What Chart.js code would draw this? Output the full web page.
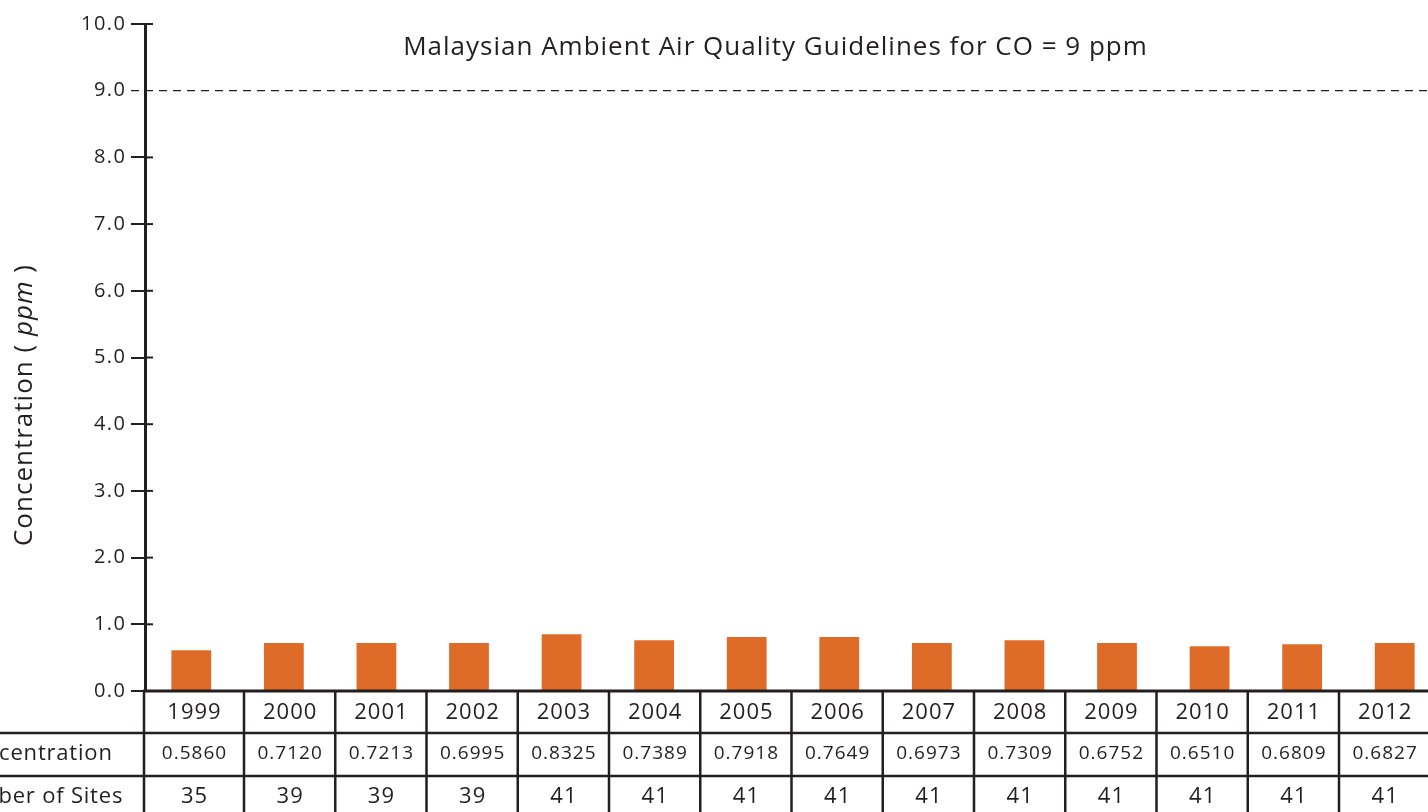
<!DOCTYPE html>
<html>
<head>
<meta charset="utf-8">
<script src="https://cdn.jsdelivr.net/npm/chart.js@4.4.1/dist/chart.umd.min.js"></script>
<style>
  html, body { margin: 0; padding: 0; overflow: hidden; background: #fff; }
  #wrap { width: 1445px; height: 812px; }
</style>
</head>
<body>
<div id="wrap"><canvas id="CO_CHART" width="1445" height="812"></canvas></div>
<script>
// datos
var years = ["1999", "2000", "2001", "2002", "2003", "2004", "2005", "2006", "2007", "2008", "2009", "2010", "2011", "2012"];
var barValues = [0.61, 0.72, 0.72, 0.72, 0.85, 0.76, 0.81, 0.81, 0.72, 0.76, 0.72, 0.67, 0.70, 0.72];
var concentration = ["0.5860", "0.7120", "0.7213", "0.6995", "0.8325", "0.7389", "0.7918", "0.7649", "0.6973", "0.7309", "0.6752", "0.6510", "0.6809", "0.6827"];
var sites = ["35", "39", "39", "39", "41", "41", "41", "41", "41", "41", "41", "41", "41", "41"];
var rowLabels = ["Concentration", "Number of Sites"];
var guideline = 9;
var guidelineText = "Malaysian Ambient Air Quality Guidelines for CO = 9 ppm";

var FONT = "'Open Sans', 'DejaVu Sans', sans-serif";
var INK = "#231f20";

// texto con espaciado extra (la fuente original es mas ancha)
function texto(ctx, str, x, y, size, spacing, align, style) {
  ctx.font = (style ? style + " " : "") + size + "px " + FONT;
  ctx.letterSpacing = spacing + "px";
  var w = ctx.measureText(str).width - spacing;
  var x0 = x;
  if (align === "center") x0 = x - w / 2;
  if (align === "right") x0 = x - w;
  ctx.textAlign = "left";
  ctx.fillText(str, x0, y);
  ctx.letterSpacing = "0px";
  return w + spacing;
}

// dibuja linea guia, titulos y la tabla de abajo
var extras = {
  id: "extras",
  afterDraw: function (chart) {
    var ctx = chart.ctx;
    var area = chart.chartArea;
    var y = chart.scales.y;
    ctx.save();
    ctx.strokeStyle = INK;
    ctx.fillStyle = INK;
    ctx.textBaseline = "middle";

    // etiquetas y pedacito de tick a la derecha del eje
    ctx.lineWidth = 2;
    y.ticks.forEach(function (t) {
      var py = y.getPixelForValue(t.value);
      texto(ctx, t.value.toFixed(1), 125, py, 20, 1.5, "right");
      if (t.value === guideline) return;
      ctx.beginPath();
      ctx.moveTo(area.left, py);
      ctx.lineTo(area.left + 8, py);
      ctx.stroke();
    });

    // linea de la norma
    var gy = y.getPixelForValue(guideline);
    ctx.lineWidth = 1.3;
    ctx.setLineDash([8, 6]);
    ctx.beginPath();
    ctx.moveTo(area.left - 14, gy);
    ctx.lineTo(chart.width, gy);
    ctx.stroke();
    ctx.setLineDash([]);

    texto(ctx, guidelineText, 775, 48, 26, 1, "center");

    // titulo eje y
    ctx.save();
    ctx.translate(25, 405);
    ctx.rotate(-Math.PI / 2);
    var parts = [["Concentration ( ", ""], ["ppm", "italic"], [" )", ""]];
    var total = 0;
    parts.forEach(function (p) {
      ctx.font = (p[1] ? p[1] + " " : "") + "26px " + FONT;
      ctx.letterSpacing = "1px";
      total += ctx.measureText(p[0]).width;
    });
    var px = -total / 2;
    parts.forEach(function (p) {
      px += texto(ctx, p[0], px, 0, 26, 1, "left", p[1]);
    });
    ctx.restore();

    // tabla
    var top = area.bottom;
    var rows = [top, top + 42, top + 85, chart.height + 5];
    var edges = [area.left - 1];
    for (var i = 1; i <= years.length; i++) {
      edges.push(area.left + 99 + (i - 1) * 91.25);
    }

    ctx.lineWidth = 3;
    ctx.beginPath();
    ctx.moveTo(area.left - 2, top);
    ctx.lineTo(chart.width, top);
    ctx.stroke();

    ctx.lineWidth = 2.5;
    ctx.beginPath();
    ctx.moveTo(0, rows[1]);
    ctx.lineTo(chart.width, rows[1]);
    ctx.moveTo(0, rows[2]);
    ctx.lineTo(chart.width, rows[2]);
    edges.forEach(function (ex) {
      ctx.moveTo(ex, top);
      ctx.lineTo(ex, chart.height);
    });
    ctx.stroke();

    var cols = [years, concentration, sites];
    var sizes = [22, 19, 22];
    var centers = [top + 22, top + 63, top + 106];
    for (var r = 0; r < 3; r++) {
      for (var c = 0; c < years.length; c++) {
        var cx = (edges[c] + (edges[c + 1] || edges[c] + 91.25)) / 2;
        texto(ctx, cols[r][c], cx, centers[r], sizes[r], 1, "center");
      }
    }
    texto(ctx, rowLabels[0], 34, centers[1], 22, 0.8, "center");
    texto(ctx, rowLabels[1], 34, centers[2], 22, 0.8, "center");

    ctx.restore();
  },
};

var ctx = document.getElementById("CO_CHART").getContext("2d");

var myChart = new Chart(ctx, {
  type: "bar",
  data: {
    labels: years,
    datasets: [
      {
        label: "CO",
        data: barValues,
        backgroundColor: "#de6c28",
        borderWidth: 0,
        categoryPercentage: 1,
        barPercentage: 0.43,
      },
    ],
  },
  options: {
    responsive: false,
    animation: false,
    devicePixelRatio: 1,
    layout: {
      padding: { top: 24, bottom: 121, left: 0, right: 4 },
    },
    plugins: {
      legend: { display: false },
      tooltip: { enabled: false },
      title: { display: false },
    },
    scales: {
      x: {
        display: false,
      },
      y: {
        min: 0,
        max: 10,
        afterFit: function (scale) {
          scale.width = 145;
        },
        ticks: {
          stepSize: 1,
          padding: 5,
          color: "rgba(0,0,0,0)",
          font: { size: 18, family: FONT },
        },
        grid: {
          drawOnChartArea: false,
          drawTicks: true,
          tickLength: 14,
          lineWidth: 2,
          color: function (c) {
            return c.tick && c.tick.value === guideline ? "rgba(0,0,0,0)" : INK;
          },
        },
        border: {
          display: true,
          color: INK,
          width: 3,
        },
      },
    },
  },
  plugins: [extras],
});
</script>
</body>
</html>
